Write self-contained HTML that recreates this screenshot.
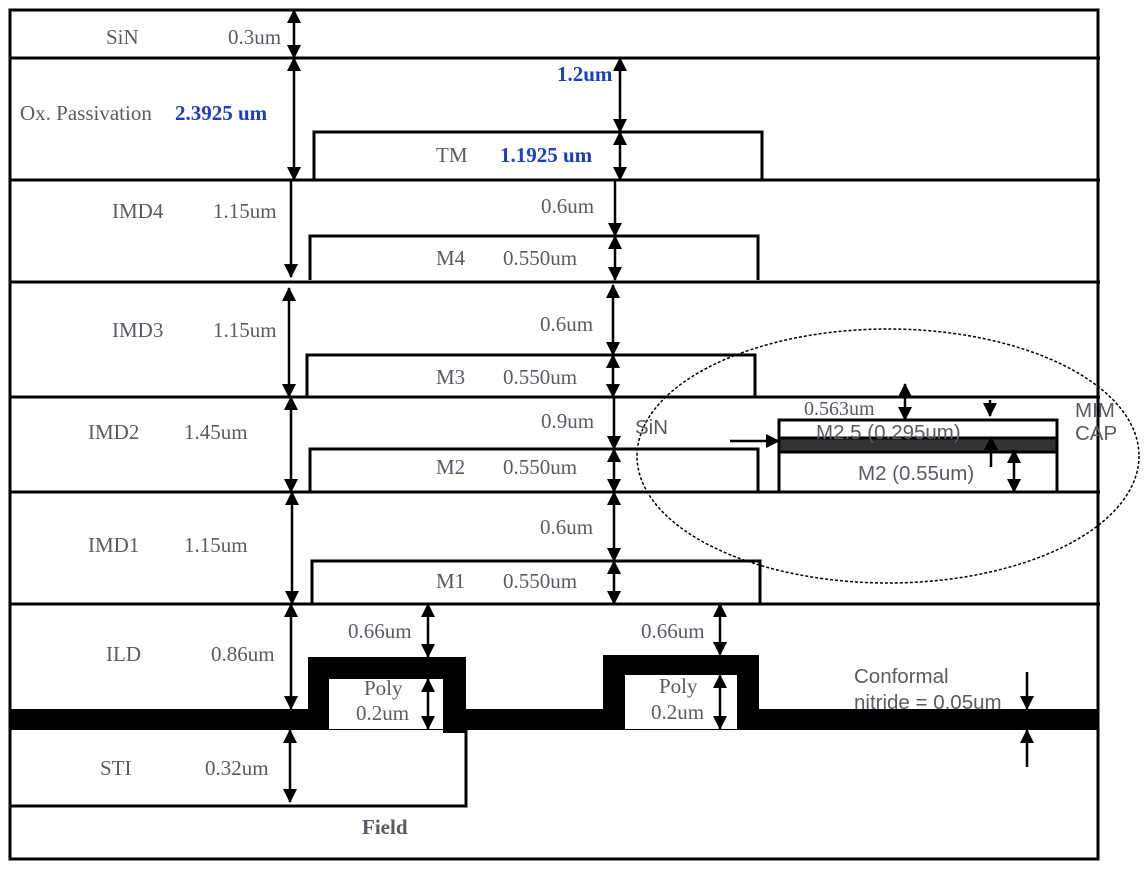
<!DOCTYPE html>
<html><head><meta charset="utf-8"><style>
html,body{margin:0;padding:0;background:#fff;}
svg{display:block;}
.t{font-family:"Liberation Serif",serif;font-size:21px;fill:#5a5a66;}
.b{font-family:"Liberation Serif",serif;font-size:21px;font-weight:bold;fill:#1a3fc0;}
.s{font-family:"Liberation Sans",sans-serif;font-size:20.5px;fill:#5a5a66;}
</style></head><body>
<svg width="1144" height="873" viewBox="0 0 1144 873" xmlns="http://www.w3.org/2000/svg">
<defs>
<marker id="a" markerUnits="userSpaceOnUse" markerWidth="14" markerHeight="14" refX="13" refY="7" orient="auto-start-reverse" viewBox="0 0 14 14"><path d="M0,0 L14,7 L0,14 z" fill="#000"/></marker>
</defs>
<g stroke="#000" stroke-width="3" fill="none">
<rect x="10" y="10" width="1088" height="849"/>
<line x1="10" y1="58" x2="1100" y2="58"/>
<line x1="10" y1="180" x2="1100" y2="180"/>
<line x1="10" y1="282" x2="1100" y2="282"/>
<line x1="10" y1="397" x2="1100" y2="397"/>
<line x1="10" y1="492" x2="1100" y2="492"/>
<line x1="10" y1="604" x2="1100" y2="604"/>
<polyline points="314,180 314,132 762,132 762,180"/>
<polyline points="310,280 310,236 758,236 758,280"/>
<polyline points="307,397 307,355 755,355 755,397"/>
<polyline points="310,492 310,449 758,449 758,492"/>
<polyline points="312,604 312,561 760,561 760,604"/>
<polyline points="10,806 466,806 466,730"/>
<rect x="779" y="420" width="278" height="72"/>
</g>
<rect x="779" y="438" width="278" height="14" fill="#333" stroke="#000" stroke-width="3"/>
<g fill="#000">
<rect x="10" y="709" width="1088" height="21"/>
<rect x="308" y="657" width="158" height="53"/>
<rect x="443" y="709" width="23" height="24"/>
<rect x="603" y="655" width="156" height="55"/>
</g>
<rect x="329" y="679" width="114" height="50" fill="#fff"/>
<rect x="625" y="675" width="112" height="54" fill="#fff"/>
<ellipse cx="888" cy="456" rx="251" ry="127" fill="none" stroke="#000" stroke-width="1.5" stroke-dasharray="3,2"/>
<g stroke="#000" stroke-width="2.5" fill="none" marker-start="url(#a)" marker-end="url(#a)">
<line x1="294" y1="10" x2="294" y2="58"/>
<line x1="294" y1="58" x2="294" y2="180"/>
<line x1="620" y1="58" x2="620" y2="132"/>
<line x1="620" y1="132" x2="620" y2="180"/>
<line x1="615" y1="236" x2="615" y2="280"/>
<line x1="289" y1="288" x2="289" y2="397"/>
<line x1="613" y1="285" x2="613" y2="355"/>
<line x1="613" y1="355" x2="613" y2="397"/>
<line x1="291" y1="397" x2="291" y2="492"/>
<line x1="614" y1="449" x2="614" y2="492"/>
<line x1="292" y1="492" x2="292" y2="604"/>
<line x1="614" y1="492" x2="614" y2="561"/>
<line x1="614" y1="561" x2="614" y2="604"/>
<line x1="291" y1="604" x2="291" y2="709"/>
<line x1="428" y1="604" x2="428" y2="657"/>
<line x1="428" y1="679" x2="428" y2="729"/>
<line x1="720" y1="604" x2="720" y2="655"/>
<line x1="720" y1="675" x2="720" y2="729"/>
<line x1="290" y1="730" x2="290" y2="802"/>
<line x1="905" y1="384" x2="905" y2="420"/>
<line x1="1014" y1="450" x2="1014" y2="492"/>
</g>
<g stroke="#000" stroke-width="2.5" fill="none" marker-end="url(#a)">
<line x1="291" y1="180" x2="291" y2="277"/>
<line x1="615" y1="180" x2="615" y2="236"/>
<line x1="614" y1="397" x2="614" y2="449"/>
<line x1="990" y1="400" x2="990" y2="416"/>
<line x1="991" y1="467" x2="991" y2="437"/>
<line x1="730" y1="441" x2="779" y2="441"/>
<line x1="1027" y1="672" x2="1027" y2="709"/>
<line x1="1027" y1="767" x2="1027" y2="730"/>
</g>
<text class="t" x="106" y="44">SiN</text>
<text class="t" x="228" y="44">0.3um</text>
<text class="t" x="20" y="120">Ox. Passivation</text>
<text class="b" x="175" y="120">2.3925 um</text>
<text class="b" x="557" y="81">1.2um</text>
<text class="t" x="436" y="162">TM</text>
<text class="b" x="500" y="162">1.1925 um</text>
<text class="t" x="112" y="218">IMD4</text>
<text class="t" x="213" y="218">1.15um</text>
<text class="t" x="541" y="213">0.6um</text>
<text class="t" x="436" y="265">M4</text>
<text class="t" x="503" y="265">0.550um</text>
<text class="t" x="112" y="337">IMD3</text>
<text class="t" x="213" y="337">1.15um</text>
<text class="t" x="540" y="331">0.6um</text>
<text class="t" x="436" y="384">M3</text>
<text class="t" x="503" y="384">0.550um</text>
<text class="t" x="88" y="439">IMD2</text>
<text class="t" x="184" y="439">1.45um</text>
<text class="t" x="541" y="428">0.9um</text>
<text class="t" x="436" y="474">M2</text>
<text class="t" x="503" y="474">0.550um</text>
<text class="t" x="88" y="552">IMD1</text>
<text class="t" x="184" y="552">1.15um</text>
<text class="t" x="540" y="534">0.6um</text>
<text class="t" x="436" y="588">M1</text>
<text class="t" x="503" y="588">0.550um</text>
<text class="t" x="106" y="661">ILD</text>
<text class="t" x="211" y="661">0.86um</text>
<text class="t" x="348" y="638">0.66um</text>
<text class="t" x="641" y="638">0.66um</text>
<text class="t" x="364" y="695">Poly</text>
<text class="t" x="356" y="720">0.2um</text>
<text class="t" x="659" y="693">Poly</text>
<text class="t" x="651" y="719">0.2um</text>
<text class="t" x="100" y="775">STI</text>
<text class="t" x="205" y="775">0.32um</text>
<text class="t" x="362" y="834" style="font-weight:bold">Field</text>
<text class="t" x="804" y="415" style="font-size:20px">0.563um</text>
<text class="s" x="635" y="434">SiN</text>
<text class="s" x="816" y="439">M2.5 (0.295um)</text>
<text class="s" x="858" y="480">M2 (0.55um)</text>
<text class="s" x="1075" y="417">MIM</text>
<text class="s" x="1075" y="440">CAP</text>
<text class="s" x="854" y="683">Conformal</text>
<text class="s" x="854" y="709">nitride = 0.05um</text>
</svg>
</body></html>
